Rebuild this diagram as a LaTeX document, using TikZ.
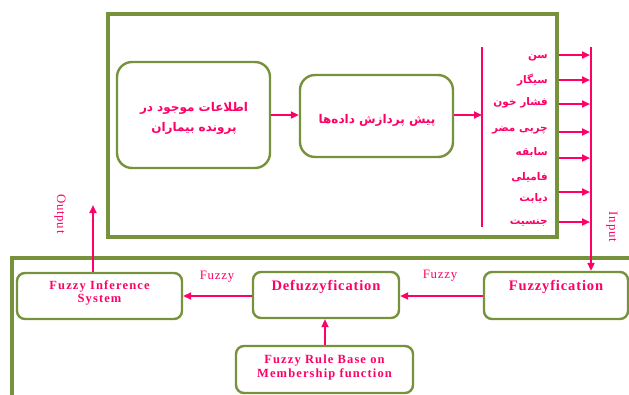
\documentclass[tikz,border=0pt]{standalone}
\usepackage{fontspec}
\setmainfont{Liberation Serif}
\newfontfamily\fa[Script=Arabic]{DejaVu Sans}
\newfontfamily\en[LetterSpace=6]{Liberation Serif}
\newfontfamily\ens[LetterSpace=9]{Liberation Serif}
\TeXXeTstate=1
\usetikzlibrary{arrows.meta}
\definecolor{olivegr}{RGB}{118,146,60}
\definecolor{pk}{RGB}{255,0,102}
\begin{document}
\begin{tikzpicture}[x=1pt,y=-1pt,
 frame/.style={draw=olivegr,line width=3.2pt,inner sep=0pt},
 rbox/.style={draw=olivegr,line width=2.4pt,rounded corners=15pt,inner sep=0pt},
 sbox/.style={draw=olivegr,line width=2.4pt,rounded corners=8pt,inner sep=0pt},
 conn/.style={draw=pk,line width=2.4pt,-{Triangle[length=8pt,width=7pt]}},
 bar/.style={draw=pk,line width=2.4pt},
 txt/.style={text=pk,inner sep=0pt},
 fatxt/.style={txt,font=\fa\bfseries\fontsize{12}{20}\selectfont,align=center},
 lab/.style={txt,anchor=east,font=\fa\bfseries\fontsize{10.5}{12}\selectfont},
 entitle/.style={txt,font=\en\bfseries\fontsize{14.5}{16}\selectfont},
 ensmall/.style={txt,align=center,font=\ens\bfseries\fontsize{12.5}{13.5}\selectfont},
 fz/.style={txt,font=\en\fontsize{12.8}{13}\selectfont}]
\clip (0,0) rectangle (629,394);
\fill[white] (0,0) rectangle (629,394);
% top frame
\node[frame,minimum width=449pt,minimum height=223pt] (topf) at (332.5,125.5) {};
% bottom frame (clipped)
\coordinate (bl) at (12,400);
\coordinate (tl) at (12,258);
\coordinate (tr) at (640,258);
\draw[olivegr,line width=3.2pt] (bl) -- (tl) -- (tr);
% top boxes
\node[rbox,minimum width=153pt,minimum height=106pt] (b1) at (193.5,115) {};
\node[fatxt] (b1t) at (194,118) {\beginR اطلاعات موجود در\endR\\ \beginR پرونده بیماران\endR};
\node[rbox,minimum width=153pt,minimum height=82pt] (b2) at (376.5,116) {};
\node[fatxt] (b2t) at (377,120) {\beginR پیش پردازش داده‌ها\endR};
\draw[conn] (b1.east) -- (b1.east -| b2.west);
% left bar
\coordinate (lbt) at (482,47);
\coordinate (lbb) at (482,227);
\draw[bar] (lbt) -- (lbb);
\draw[conn] (b1.east -| b2.east) -- (b1.east -| lbt);
% labels
\node[lab] (l1) at (548,58) {\beginR سن\endR};
\node[lab] (l2) at (548,80) {\beginR سیگار\endR};
\node[lab] (l3) at (548,103) {\beginR فشار خون\endR};
\node[lab] (l4) at (548,130) {\beginR چربی مضر\endR};
\node[lab] (l5) at (548,152) {\beginR سابقه\endR};
\node[lab] (l6) at (548,177) {\beginR فامیلی\endR};
\node[lab] (l7) at (548,198) {\beginR دیابت\endR};
\node[lab] (l8) at (548,223) {\beginR جنسیت\endR};
% right bar
\coordinate (rbt) at (591,47);
\foreach \y in {55,80,104,132,158,192,222} {
  \coordinate (s\y) at (topf.east |- 0,\y);
  \coordinate (e\y) at (590,\y);
  \draw[conn] (s\y) -- (e\y);
}
% bottom boxes
\node[sbox,minimum width=144pt,minimum height=47pt] (fzb) at (556,295.5) {};
\node[sbox,minimum width=146pt,minimum height=46pt] (dfb) at (326,295) {};
\node[sbox,minimum width=165pt,minimum height=46pt] (fis) at (99.5,296) {};
\node[sbox,minimum width=177pt,minimum height=47pt] (rule) at (324.5,369.5) {};
\node[entitle] (fzt) at (556,287) {Fuzzyfication};
\node[entitle] (dft) at (326,287) {Defuzzyfication};
\node[ensmall] (fist) at (99.5,293) {Fuzzy Inference\\System};
\node[ensmall] (rulet) at (324.5,367.5) {Fuzzy Rule Base on\\Membership function};
\draw[bar,-{Triangle[length=8pt,width=7pt]}] (rbt) -- (rbt |- fzb.north);
\draw[conn] (fzb.west |- 0,296) -- (dfb.east |- 0,296);
\draw[conn] (dfb.west |- 0,296) -- (fis.east |- 0,296);
\draw[conn] (rule.north -| 325,0) -- (dfb.south -| 325,0);
\node[fz] (f1) at (440,276) {Fuzzy};
\node[fz] (f2) at (217,277) {Fuzzy};
% output / input
\coordinate (outp) at (93,205);
\draw[conn] (fis.north -| outp) -- (outp);
\node[fz,rotate=-90] (outt) at (60,214) {Output};
\node[fz,rotate=-90] (intt) at (612,227) {Input};
\end{tikzpicture}
\end{document}
